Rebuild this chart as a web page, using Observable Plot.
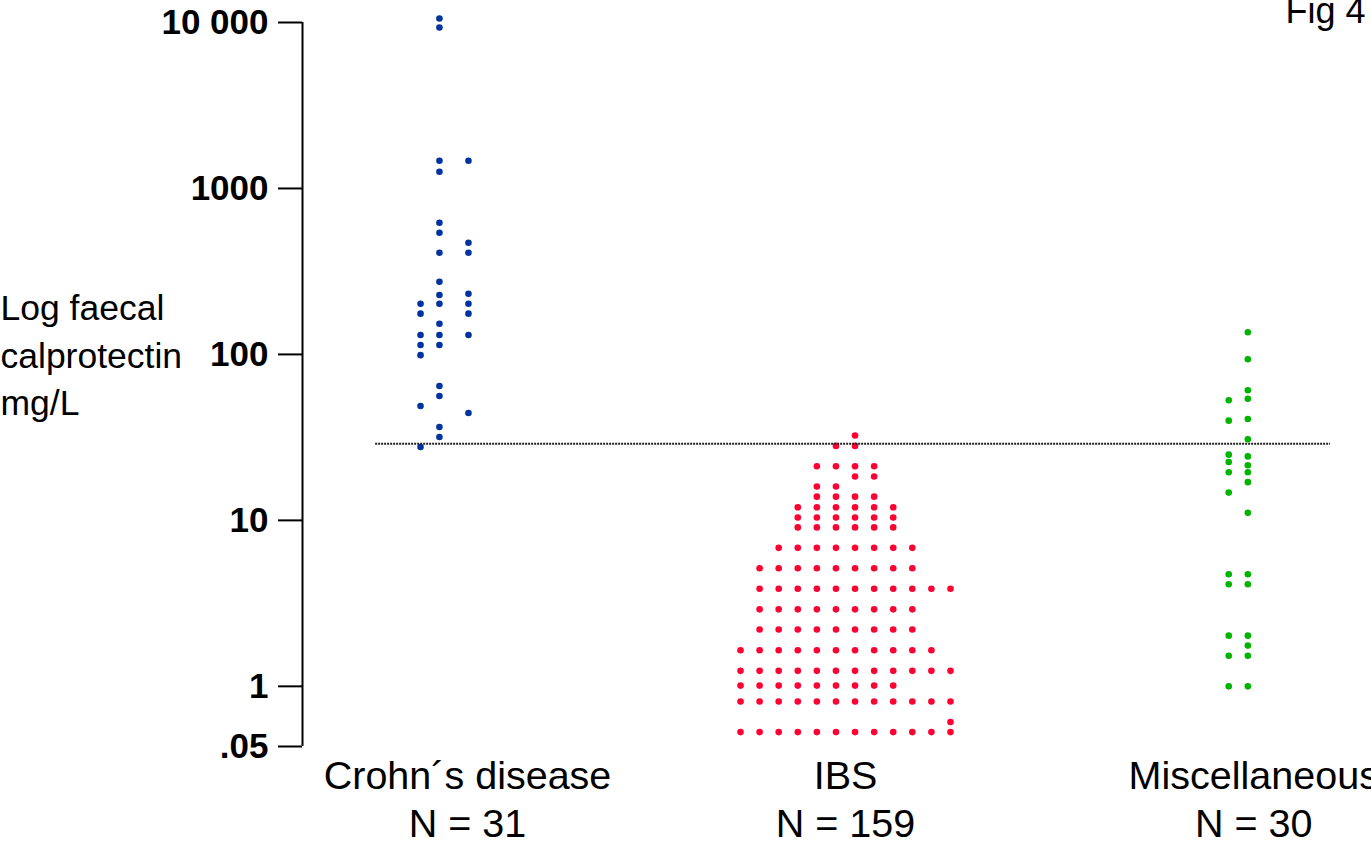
<!DOCTYPE html>
<html>
<head>
<meta charset="utf-8">
<script src="https://cdn.jsdelivr.net/npm/d3@7"></script>
<script src="https://cdn.jsdelivr.net/npm/@observablehq/plot@0.6"></script>
<style>
  html, body { margin: 0; padding: 0; background: #fff; }
  #chart svg { display: block; }
</style>
</head>
<body>
<div id="chart"></div>
<script>
// ---- data ----
const groups = ["Crohn´s disease", "IBS", "Miscellaneous"];
const groupN = ["N = 31", "N = 159", "N = 30"];
const groupColors = ["#0033A0", "#FF0033", "#00B400"];

const yTicks = [10000, 1000, 100, 10, 1, 0.434];
const yTickLabels = ["10 000", "1000", "100", "10", "1", ".05"];
const cutoffValue = 29;

// Crohn's disease (value mg/L, dot column)
const crohnValues = [10570, 9330, 1470, 1262, 621, 541, 410, 274, 228, 202, 153, 131, 114, 64.5, 56.2, 36.5, 31.8,
                     1470, 471, 410, 232, 202, 176, 131, 44.4,
                     202, 176, 131, 114, 99, 48.9, 27.7];
const crohnCols = [1,1,1,1,1,1,1,1,1,1,1,1,1,1,1,1,1,
                   2,2,2,2,2,2,2,2,
                   0,0,0,0,0,0,0];

// IBS: rows of dots (value, first column, last column)
const ibsRowValues = [32.5, 28.1, 21.2, 18.4, 16.0, 13.9, 12.0, 10.4, 9.07, 6.83, 5.15, 3.87, 2.91, 2.20, 1.65, 1.24, 1.01, 0.81, 0.61, 0.53];
const ibsRowStart  = [6,    5,    4,    6,    4,    4,    3,    3,    3,    2,    1,    1,    1,    1,    0,    0,    0,    0,    11,   0];
const ibsRowEnd    = [6,    6,    7,    7,    5,    7,    8,    8,    8,    9,    9,    11,   9,    9,    10,   11,   8,    11,   11,   11];

// Miscellaneous
const miscValues = [136, 93.5, 60.8, 52.9, 54.1, 39.9, 40.8, 30.8, 24.9, 24.3, 22.5, 21.5, 19.5, 19.5, 17.0, 14.7, 11.1,
                    4.74, 4.74, 4.12, 4.12, 2.02, 2.02, 1.76, 1.53, 1.53, 1.0, 1.0];
const miscCols = [1, 1, 1, 0, 1, 0, 1, 1, 0, 1, 0, 1, 0, 1, 1, 0, 1,
                  0, 1, 0, 1, 0, 1, 1, 0, 1, 0, 1];

// ---- layout ----
const groupPos = [0, 1, 2.08];
const colStep = 0.0505;
const colPos = [
  c => [-2.46, -1.47, 0.05][c],
  c => c - 5.5,
  c => [-1.31, -0.31][c]
];
const xDomain = [-0.4365, 2.3915];
const tickLen = 24 / 378;
const ruleX = [-0.243, 2.283];
const FONT = "'Liberation Sans', Arial, Helvetica, sans-serif";

// ---- build table ----
const dots = [];
crohnValues.forEach((v, i) => dots.push({g: 0, value: v, col: crohnCols[i]}));
ibsRowValues.forEach((v, r) => {
  for (let c = ibsRowStart[r]; c <= ibsRowEnd[r]; c++) dots.push({g: 1, value: v, col: c});
});
miscValues.forEach((v, i) => dots.push({g: 2, value: v, col: miscCols[i]}));
dots.forEach(d => { d.x = groupPos[d.g] + colPos[d.g](d.col) * colStep; d.group = groups[d.g]; });

const labels = groups.map((g, i) => ({x: groupPos[i], name: g, n: groupN[i]}));
const yMin = yTicks[yTicks.length - 1];
const ticksTable = yTicks.map((t, i) => ({value: t, label: yTickLabels[i]}));

const chart = Plot.plot({
  width: 1371,
  height: 845,
  marginLeft: 302,
  marginRight: 0,
  marginTop: 22,
  marginBottom: 99,
  style: {fontFamily: FONT, background: "#fff", color: "#000", overflow: "visible"},
  x: {type: "linear", domain: xDomain, axis: null},
  y: {type: "log", domain: [yMin, 10000], axis: null},
  color: {domain: groups, range: groupColors},
  marks: [
    Plot.ruleX([xDomain[0]], {y1: yMin, y2: 10000, stroke: "#000", strokeWidth: 2}),
    Plot.ruleY(ticksTable, {y: "value", x1: xDomain[0] - tickLen, x2: xDomain[0], stroke: "#000", strokeWidth: 2}),
    Plot.text(ticksTable, {y: "value", frameAnchor: "left", dx: -34, textAnchor: "end", text: "label",
      fontSize: 35, fontWeight: "bold", lineAnchor: "middle", fill: "#000"}),
    Plot.dot(dots, {x: "x", y: "value", fill: "group", r: 3.3, stroke: null}),
    Plot.ruleY([cutoffValue], {x1: ruleX[0], x2: ruleX[1], stroke: "#222", strokeWidth: 2, strokeDasharray: "2,1"}),
    Plot.text(labels, {x: "x", y: () => yMin, text: "name", fontSize: 39.5, lineAnchor: "middle", dy: 30, fill: "#000"}),
    Plot.text(labels, {x: "x", y: () => yMin, text: "n", fontSize: 39.5, lineAnchor: "middle", dy: 78, fill: "#000"}),
    Plot.text(["Log faecal\ncalprotectin\nmg/L"], {frameAnchor: "left", dx: -302, dy: -32, textAnchor: "start", lineAnchor: "middle", lineHeight: 1.33, fontSize: 35.5, fill: "#000"}),
    Plot.text(["Fig 4"], {frameAnchor: "top-right", dx: -6, lineAnchor: "bottom", fontSize: 36, fill: "#000"})
  ]
});
document.getElementById("chart").appendChild(chart);
</script>
</body>
</html>
